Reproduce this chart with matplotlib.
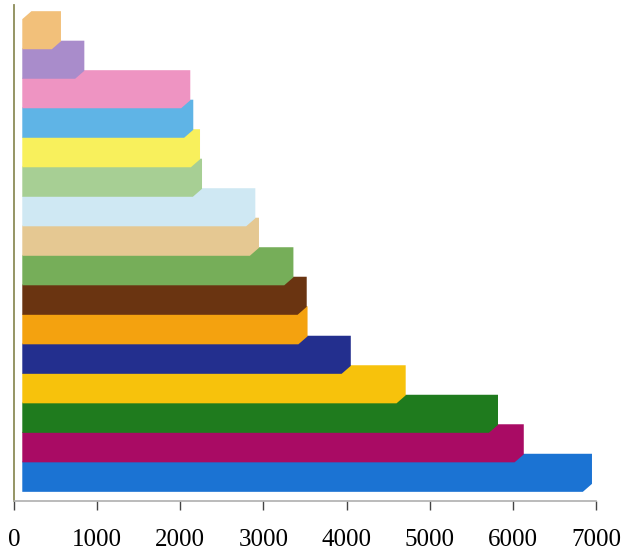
import numpy as np
import matplotlib

matplotlib.use("Agg")

import matplotlib.pyplot as plt
from matplotlib.patches import Polygon

# Bars listed bottom to top.
values = [6950, 6130, 5820, 4710, 4050, 3530, 3520, 3360,
          2946, 2902, 2261, 2237, 2156, 2120, 846, 565]
colors = ["#1B73D3", "#A90B64", "#1F7B1E", "#F7C20C", "#232F8E", "#F4A20F",
          "#6A3411", "#76AE59", "#E5C892", "#CFE8F3", "#A7CF94", "#F8F05C",
          "#5FB4E6", "#EE94C2", "#A98CCB", "#F2C07A"]
xticks = [0, 1000, 2000, 3000, 4000, 5000, 6000, 7000]

X0 = 100      # bars start slightly right of the axis
DX = 110      # chamfer width (data units)
DY = 0.27     # chamfer / depth height
H = 1.02      # front face height

fig = plt.figure(figsize=(6.41, 5.54), dpi=100)
ax = fig.add_axes([0.0218, 0.0957, 0.9082, 0.8953])

n = len(values)
for k, (v, c) in enumerate(zip(values, colors)):
    pts = [(X0, k), (v - DX, k), (v, k + DY), (v, k + H + DY),
           (X0 + DX, k + H + DY), (X0, k + H)]
    ax.add_patch(Polygon(pts, closed=True, facecolor=c, edgecolor="none",
                         zorder=2 + k))

ax.set_xlim(0, 7000)
ax.set_ylim(-0.31, 16.5)
ax.set_xticks(xticks)
ax.set_xticklabels([str(t) for t in xticks], fontfamily="Liberation Serif",
                   fontsize=18)
ax.set_yticks([])
ax.tick_params(axis="x", length=6.5, width=1.0, color="#444444", pad=14)

for s in ["top", "right"]:
    ax.spines[s].set_visible(False)
ax.spines["left"].set_color("#8C8C58")
ax.spines["left"].set_linewidth(1.3)
ax.spines["bottom"].set_color("#AFAFAF")
ax.spines["bottom"].set_linewidth(1.2)

fig.savefig("out.png", dpi=100)
